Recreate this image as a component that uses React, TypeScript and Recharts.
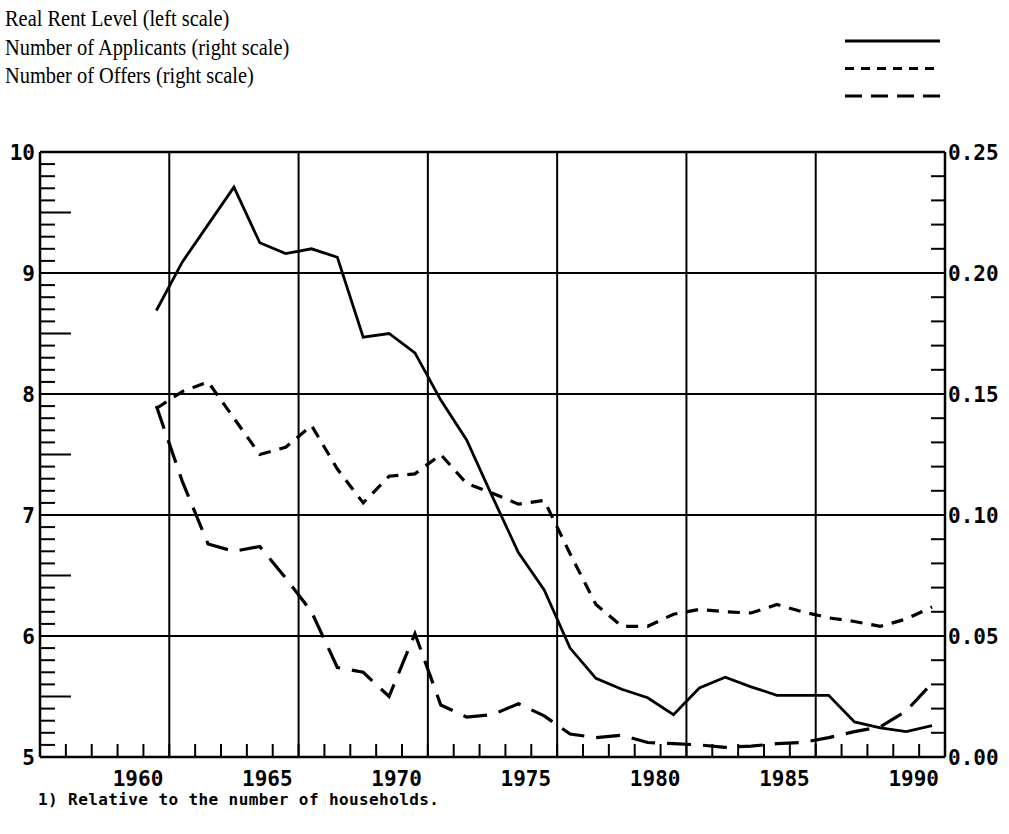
import { Line, LineChart, ReferenceLine, XAxis, YAxis } from 'recharts'

const years = [
  1960, 1961, 1962, 1963, 1964, 1965, 1966, 1967, 1968, 1969, 1970, 1971, 1972, 1973, 1974, 1975,
  1976, 1977, 1978, 1979, 1980, 1981, 1982, 1983, 1984, 1985, 1986, 1987, 1988, 1989, 1990,
]

// real rent level, left scale
const realRent = [
  8.69, 9.09, 9.4, 9.71, 9.25, 9.16, 9.2, 9.13, 8.47, 8.5, 8.34, 7.95, 7.62, 7.15, 6.69, 6.38,
  5.9, 5.65, 5.56, 5.49, 5.35, 5.57, 5.66, 5.58, 5.51, 5.51, 5.51, 5.29, 5.24, 5.21, 5.26,
]

// applicants / offers relative to households, right scale
const applicants = [
  0.144, 0.151, 0.155, 0.14, 0.125, 0.128, 0.137, 0.119, 0.105, 0.116, 0.117, 0.125, 0.113, 0.109,
  0.1045, 0.106, 0.084, 0.063, 0.054, 0.054, 0.059, 0.061, 0.06, 0.0595, 0.063, 0.06, 0.0575, 0.056,
  0.054, 0.057, 0.062,
]

const offers = [
  0.145, 0.114, 0.088, 0.085, 0.087, 0.074, 0.06, 0.037, 0.035, 0.025, 0.051, 0.0215, 0.0165, 0.0175,
  0.022, 0.017, 0.0095, 0.008, 0.009, 0.006, 0.0055, 0.005, 0.004, 0.0045, 0.0055, 0.006, 0.008,
  0.0105, 0.0125, 0.019, 0.0305,
]

// year boundaries carry the tick marks, every fifth one a grid line and a label
const yearEdges = [
  1955.5, 1956.5, 1957.5, 1958.5, 1959.5, 1960.5, 1961.5, 1962.5, 1963.5, 1964.5, 1965.5, 1966.5,
  1967.5, 1968.5, 1969.5, 1970.5, 1971.5, 1972.5, 1973.5, 1974.5, 1975.5, 1976.5, 1977.5, 1978.5,
  1979.5, 1980.5, 1981.5, 1982.5, 1983.5, 1984.5, 1985.5, 1986.5, 1987.5, 1988.5, 1989.5, 1990.5,
]
const gridYears = [1960.5, 1965.5, 1970.5, 1975.5, 1980.5, 1985.5]
const labelYears = [1960.5, 1965.5, 1970.5, 1975.5, 1980.5, 1985.5, 1990.5]

const leftTicks = Array.from({ length: 51 }, (_, i) => Math.round((5 + i / 10) * 10) / 10)
const leftGrid = [6, 7, 8, 9]
const rightTicks = Array.from({ length: 26 }, (_, i) => i / 100)

const series = [
  { key: 'rent', name: 'Real Rent Level (left scale)', axis: 'left', dash: undefined, legendDash: undefined, width: 2.8 },
  { key: 'applicants', name: 'Number of Applicants (right scale)', axis: 'right', dash: '12 9', legendDash: '9 7', width: 3.2 },
  { key: 'offers', name: 'Number of Offers (right scale)', axis: 'right', dash: '24 12', legendDash: '17 9', width: 3.2 },
]

const data = years.map((year, i) => ({
  year,
  rent: realRent[i],
  applicants: applicants[i],
  offers: offers[i],
}))

const tickFont = {
  fontFamily: '"DejaVu Sans Mono", monospace',
  fontSize: 21,
  fontWeight: 700,
  fill: '#000',
}

const XTick = ({ x, y, payload }: any) => {
  const v = payload.value
  return (
    <g>
      <line x1={x} y1={y} x2={x} y2={y - 13} stroke="#000" strokeWidth={2} />
      {labelYears.includes(v) && (
        <text x={x - 6} y={y + 22} textAnchor="end" dominantBaseline="central" {...tickFont}>
          {Math.floor(v)}
        </text>
      )}
    </g>
  )
}

const LeftTick = ({ x, y, payload }: any) => {
  const v = payload.value
  const whole = Math.abs(v - Math.round(v)) < 1e-6
  const half = Math.abs(v * 2 - Math.round(v * 2)) < 1e-6
  return (
    <g>
      <line x1={x} y1={y} x2={x + (half && !whole ? 31 : 15)} y2={y} stroke="#000" strokeWidth={2} />
      {whole && (
        <text x={x - 5} y={y + 1} textAnchor="end" dominantBaseline="central" {...tickFont}>
          {v}
        </text>
      )}
    </g>
  )
}

const RightTick = ({ x, y, payload }: any) => {
  const v = payload.value
  const major = Math.abs(v * 20 - Math.round(v * 20)) < 1e-6
  return (
    <g>
      <line x1={x} y1={y} x2={x - 14} y2={y} stroke="#000" strokeWidth={2} />
      {major && (
        <text x={x + 3} y={y + 1} textAnchor="start" dominantBaseline="central" {...tickFont}>
          {v.toFixed(2)}
        </text>
      )}
    </g>
  )
}

export default function App() {
  return (
    <div
      style={{
        position: 'absolute',
        left: 0,
        top: 0,
        width: 1009,
        height: 834,
        background: '#fff',
      }}
    >
      <div
        style={{
          position: 'absolute',
          left: 5,
          top: 4,
          fontFamily: '"Liberation Serif", serif',
          fontSize: 24,
          lineHeight: '28.5px',
          color: '#000',
          whiteSpace: 'nowrap',
          transform: 'scaleX(0.85)',
          transformOrigin: 'left top',
        }}
      >
        {series.map((s) => (
          <div key={s.key}>{s.name}</div>
        ))}
      </div>
      <svg width={110} height={110} style={{ position: 'absolute', left: 840, top: 20 }}>
        {series.map((s, i) => (
          <line
            key={s.key}
            x1={5}
            x2={100}
            y1={21 + i * 27.5}
            y2={21 + i * 27.5}
            stroke="#000"
            strokeWidth={s.width}
            strokeDasharray={s.legendDash}
          />
        ))}
      </svg>

      <LineChart
        width={1009}
        height={834}
        data={data}
        margin={{ top: 152, right: 0, bottom: 47, left: 0 }}
      >
        <XAxis
          dataKey="year"
          type="number"
          domain={[1955.5, 1990.5]}
          ticks={yearEdges}
          interval={0}
          height={30}
          tickSize={0}
          tickMargin={0}
          tick={<XTick />}
          axisLine={{ stroke: '#000', strokeWidth: 2.5 }}
          tickLine={false}
        />
        <YAxis
          yAxisId="left"
          orientation="left"
          domain={[5, 10]}
          ticks={leftTicks}
          interval={0}
          width={40}
          tickSize={0}
          tickMargin={0}
          tick={<LeftTick />}
          axisLine={{ stroke: '#000', strokeWidth: 2.5 }}
          tickLine={false}
        />
        <YAxis
          yAxisId="right"
          orientation="right"
          domain={[0, 0.25]}
          ticks={rightTicks}
          interval={0}
          width={64}
          tickSize={0}
          tickMargin={0}
          tick={<RightTick />}
          axisLine={{ stroke: '#000', strokeWidth: 2.5 }}
          tickLine={false}
        />
        {gridYears.map((g) => (
          <ReferenceLine key={g} x={g} yAxisId="left" stroke="#000" strokeWidth={2} />
        ))}
        {leftGrid.map((g) => (
          <ReferenceLine key={g} y={g} yAxisId="left" stroke="#000" strokeWidth={2} />
        ))}
        <ReferenceLine y={10} yAxisId="left" stroke="#000" strokeWidth={2.5} />
        {series.map((s) => (
          <Line
            key={s.key}
            yAxisId={s.axis}
            type="linear"
            dataKey={s.key}
            stroke="#000"
            strokeWidth={s.width}
            strokeDasharray={s.dash}
            dot={false}
            activeDot={false}
            isAnimationActive={false}
          />
        ))}
      </LineChart>

      <div
        style={{
          position: 'absolute',
          left: 38,
          top: 790,
          fontFamily: '"DejaVu Sans Mono", monospace',
          fontWeight: 700,
          fontSize: 16,
          letterSpacing: 0.4,
          color: '#000',
          whiteSpace: 'nowrap',
        }}
      >
        1) Relative to the number of households.
      </div>
    </div>
  )
}
